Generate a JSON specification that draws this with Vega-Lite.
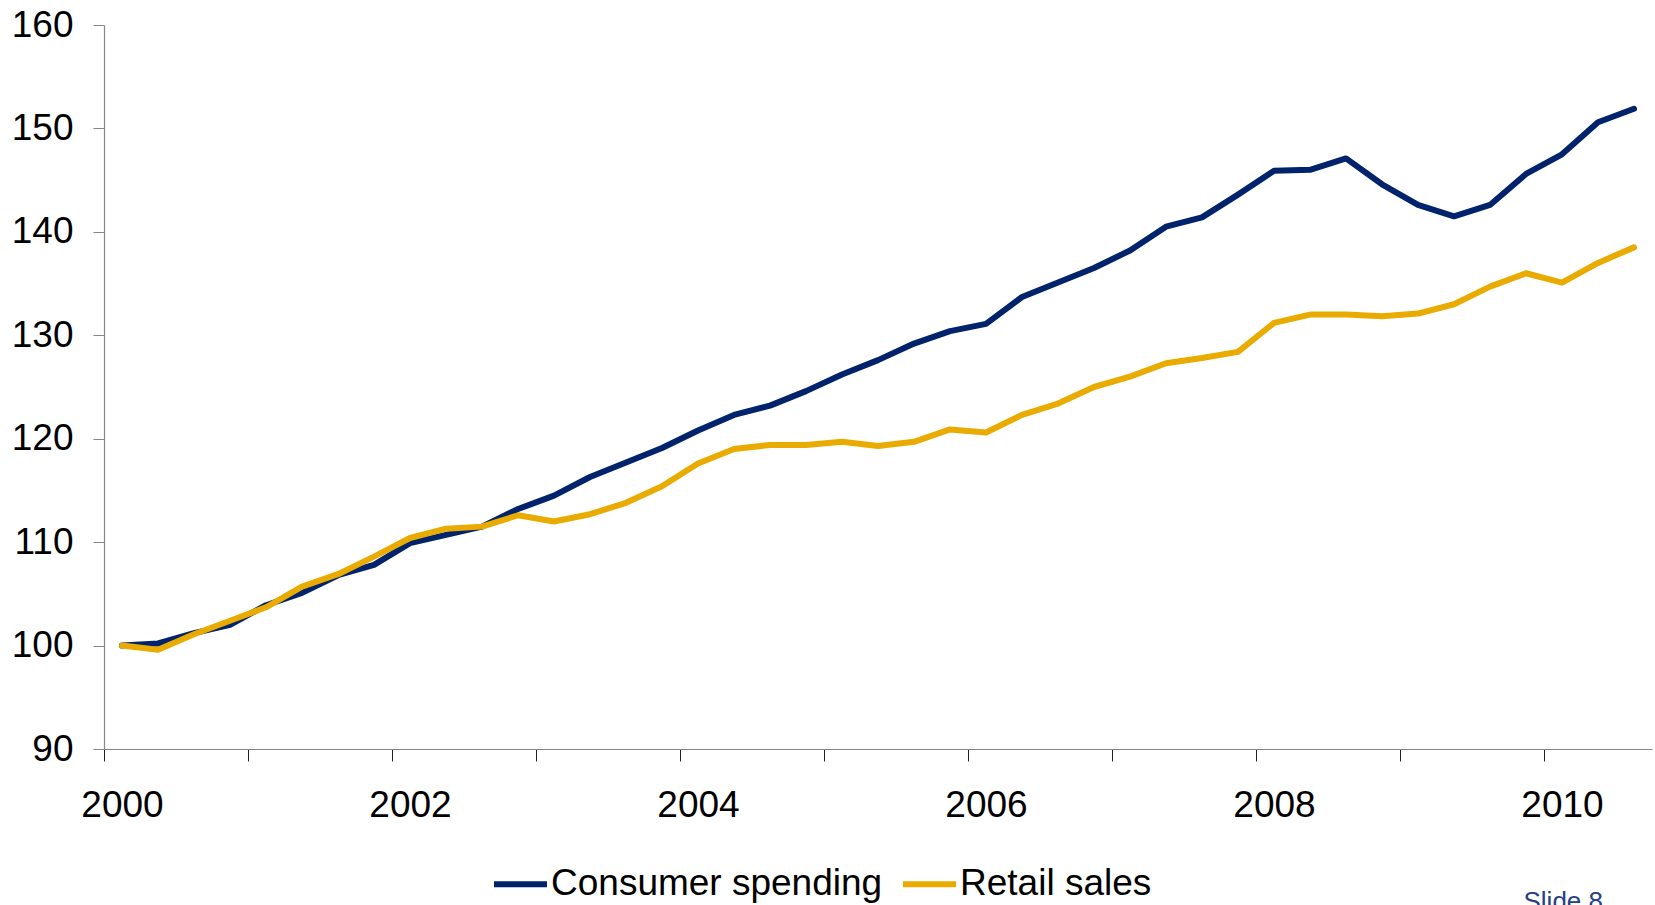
{
  "$schema": "https://vega.github.io/schema/vega-lite/v6.json",
  "autosize": {"type": "none"},
  "padding": {"left": 104, "top": 25, "right": 3, "bottom": 156},
  "width": 1548,
  "height": 724,
  "background": "white",
  "title": {
    "text": "Slide 8",
    "orient": "bottom",
    "anchor": "end",
    "dx": -49,
    "offset": -14,
    "font": "Liberation Sans",
    "fontSize": 26,
    "fontWeight": "normal",
    "color": "#24408a"
  },
  "config": {
    "view": {"stroke": null},
    "font": "Liberation Sans"
  },
  "data": {
    "values": [
      {"q": 0, "series": "Consumer spending", "value": 100.0},
      {"q": 1, "series": "Consumer spending", "value": 100.2},
      {"q": 2, "series": "Consumer spending", "value": 101.2},
      {"q": 3, "series": "Consumer spending", "value": 102.0},
      {"q": 4, "series": "Consumer spending", "value": 103.9},
      {"q": 5, "series": "Consumer spending", "value": 105.1},
      {"q": 6, "series": "Consumer spending", "value": 106.8},
      {"q": 7, "series": "Consumer spending", "value": 107.8},
      {"q": 8, "series": "Consumer spending", "value": 109.9},
      {"q": 9, "series": "Consumer spending", "value": 110.7},
      {"q": 10, "series": "Consumer spending", "value": 111.5},
      {"q": 11, "series": "Consumer spending", "value": 113.2},
      {"q": 12, "series": "Consumer spending", "value": 114.5},
      {"q": 13, "series": "Consumer spending", "value": 116.3},
      {"q": 14, "series": "Consumer spending", "value": 117.7},
      {"q": 15, "series": "Consumer spending", "value": 119.1},
      {"q": 16, "series": "Consumer spending", "value": 120.8},
      {"q": 17, "series": "Consumer spending", "value": 122.3},
      {"q": 18, "series": "Consumer spending", "value": 123.2},
      {"q": 19, "series": "Consumer spending", "value": 124.6},
      {"q": 20, "series": "Consumer spending", "value": 126.2},
      {"q": 21, "series": "Consumer spending", "value": 127.6},
      {"q": 22, "series": "Consumer spending", "value": 129.2},
      {"q": 23, "series": "Consumer spending", "value": 130.4},
      {"q": 24, "series": "Consumer spending", "value": 131.1},
      {"q": 25, "series": "Consumer spending", "value": 133.7},
      {"q": 26, "series": "Consumer spending", "value": 135.1},
      {"q": 27, "series": "Consumer spending", "value": 136.5},
      {"q": 28, "series": "Consumer spending", "value": 138.2},
      {"q": 29, "series": "Consumer spending", "value": 140.5},
      {"q": 30, "series": "Consumer spending", "value": 141.4},
      {"q": 31, "series": "Consumer spending", "value": 143.6},
      {"q": 32, "series": "Consumer spending", "value": 145.9},
      {"q": 33, "series": "Consumer spending", "value": 146.0},
      {"q": 34, "series": "Consumer spending", "value": 147.1},
      {"q": 35, "series": "Consumer spending", "value": 144.6},
      {"q": 36, "series": "Consumer spending", "value": 142.6},
      {"q": 37, "series": "Consumer spending", "value": 141.5},
      {"q": 38, "series": "Consumer spending", "value": 142.6},
      {"q": 39, "series": "Consumer spending", "value": 145.6},
      {"q": 40, "series": "Consumer spending", "value": 147.5},
      {"q": 41, "series": "Consumer spending", "value": 150.6},
      {"q": 42, "series": "Consumer spending", "value": 151.9},
      {"q": 0, "series": "Retail sales", "value": 100.0},
      {"q": 1, "series": "Retail sales", "value": 99.6},
      {"q": 2, "series": "Retail sales", "value": 101.1},
      {"q": 3, "series": "Retail sales", "value": 102.4},
      {"q": 4, "series": "Retail sales", "value": 103.7},
      {"q": 5, "series": "Retail sales", "value": 105.7},
      {"q": 6, "series": "Retail sales", "value": 106.9},
      {"q": 7, "series": "Retail sales", "value": 108.6},
      {"q": 8, "series": "Retail sales", "value": 110.4},
      {"q": 9, "series": "Retail sales", "value": 111.3},
      {"q": 10, "series": "Retail sales", "value": 111.5},
      {"q": 11, "series": "Retail sales", "value": 112.6},
      {"q": 12, "series": "Retail sales", "value": 112.0},
      {"q": 13, "series": "Retail sales", "value": 112.7},
      {"q": 14, "series": "Retail sales", "value": 113.8},
      {"q": 15, "series": "Retail sales", "value": 115.4},
      {"q": 16, "series": "Retail sales", "value": 117.6},
      {"q": 17, "series": "Retail sales", "value": 119.0},
      {"q": 18, "series": "Retail sales", "value": 119.4},
      {"q": 19, "series": "Retail sales", "value": 119.4},
      {"q": 20, "series": "Retail sales", "value": 119.7},
      {"q": 21, "series": "Retail sales", "value": 119.3},
      {"q": 22, "series": "Retail sales", "value": 119.7},
      {"q": 23, "series": "Retail sales", "value": 120.9},
      {"q": 24, "series": "Retail sales", "value": 120.6},
      {"q": 25, "series": "Retail sales", "value": 122.3},
      {"q": 26, "series": "Retail sales", "value": 123.4},
      {"q": 27, "series": "Retail sales", "value": 125.0},
      {"q": 28, "series": "Retail sales", "value": 126.0},
      {"q": 29, "series": "Retail sales", "value": 127.3},
      {"q": 30, "series": "Retail sales", "value": 127.8},
      {"q": 31, "series": "Retail sales", "value": 128.4},
      {"q": 32, "series": "Retail sales", "value": 131.2},
      {"q": 33, "series": "Retail sales", "value": 132.0},
      {"q": 34, "series": "Retail sales", "value": 132.0},
      {"q": 35, "series": "Retail sales", "value": 131.85},
      {"q": 36, "series": "Retail sales", "value": 132.1},
      {"q": 37, "series": "Retail sales", "value": 133.0},
      {"q": 38, "series": "Retail sales", "value": 134.7},
      {"q": 39, "series": "Retail sales", "value": 136.0},
      {"q": 40, "series": "Retail sales", "value": 135.1},
      {"q": 41, "series": "Retail sales", "value": 137.0},
      {"q": 42, "series": "Retail sales", "value": 138.5}
    ]
  },
  "mark": {"type": "line", "strokeWidth": 6, "strokeCap": "round", "strokeJoin": "round"},
  "encoding": {
    "x": {
      "field": "q",
      "type": "quantitative",
      "scale": {"domain": [-0.5, 42.5], "nice": false, "zero": false},
      "axis": {
        "title": null,
        "grid": false,
        "values": [-0.5, 0, 3.5, 7.5, 8, 11.5, 15.5, 16, 19.5, 23.5, 24, 27.5, 31.5, 32, 35.5, 39.5, 40],
        "labelExpr": "datum.value % 8 === 0 ? '' + (2000 + datum.value / 4) : ''",
        "tickOpacity": {"condition": {"test": "datum.value % 1 === 0", "value": 0}, "value": 1},
        "tickSize": 12,
        "tickColor": "#222222",
        "tickWidth": 1,
        "domainColor": "#868686",
        "domainWidth": 1.2,
        "labelFont": "Liberation Sans",
        "labelFontSize": 37,
        "labelColor": "#000000",
        "labelPadding": 26,
        "labelFlush": false,
        "labelOverlap": false,
        "labelBound": false
      }
    },
    "y": {
      "field": "value",
      "type": "quantitative",
      "scale": {"domain": [90, 160], "nice": false, "zero": false},
      "axis": {
        "title": null,
        "grid": false,
        "values": [90, 100, 110, 120, 130, 140, 150, 160],
        "tickSize": 11,
        "tickColor": "#868686",
        "domainColor": "#868686",
        "domainWidth": 1.2,
        "labelFont": "Liberation Sans",
        "labelFontSize": 37,
        "labelColor": "#000000",
        "labelPadding": 20,
        "labelFlush": false,
        "labelOverlap": false,
        "labelBound": false
      }
    },
    "color": {
      "field": "series",
      "type": "nominal",
      "scale": {"domain": ["Consumer spending", "Retail sales"], "range": ["#00236b", "#e9ab00"]},
      "legend": {
        "title": null,
        "orient": "none",
        "legendX": 387,
        "legendY": 829.5,
        "direction": "horizontal",
        "symbolType": "stroke",
        "symbolSize": 2809,
        "symbolStrokeWidth": 6,
        "labelFont": "Liberation Sans",
        "labelFontSize": 37,
        "labelColor": "#000000",
        "labelOffset": 1,
        "labelLimit": 600,
        "columnPadding": 8,
        "padding": 0
      }
    }
  }
}
